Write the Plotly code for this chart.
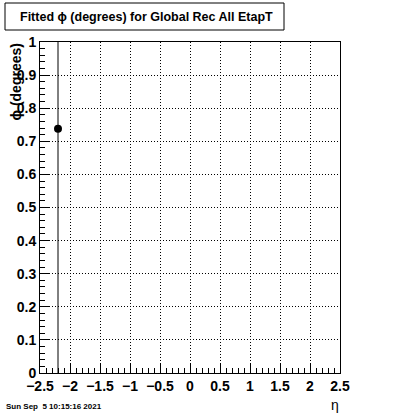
import plotly.graph_objects as go

eta = [-2.2]
phi = [0.738]
phi_err = [1.5]

title_text = "Fitted \u03d5 (degrees) for Global Rec All EtapT"
xtitle = "\u03b7"
ytitle = "\u03d5 (degrees)"
date_text = "Sun Sep  5 10:15:16 2021"

W, H = 400, 414
L, R, T, B = 40, 60, 42, 41
pw, ph = W - L - R, H - T - B

def px(x):
    return (x - L) / pw

def py(y):
    return (H - B - y) / ph

fig = go.Figure()
fig.add_trace(go.Scatter(
    x=eta, y=phi, mode="markers",
    marker=dict(color="black", size=8, symbol="circle"),
    error_y=dict(type="data", array=phi_err, arrayminus=phi_err, color="black", thickness=1, width=0),
    cliponaxis=True, showlegend=False,
))

font = "Liberation Sans, Arial, sans-serif"
fig.update_layout(
    width=W, height=H,
    margin=dict(l=L, r=R, t=T, b=B),
    paper_bgcolor="white", plot_bgcolor="white",
    font=dict(family=font, color="black"),
    xaxis=dict(
        range=[-2.5, 2.5], dtick=0.5, tick0=-2.5,
        showline=True, mirror=True, linecolor="black", linewidth=1,
        ticks="inside", ticklen=9, tickcolor="black",
        showgrid=True, gridcolor="black", griddash="1px,2px", gridwidth=1,
        zeroline=False,
        tickfont=dict(size=14, family=font, weight="bold"),
        minor=dict(ticks="inside", ticklen=5, dtick=0.1, tick0=-2.5, tickcolor="black", showgrid=False),
    ),
    yaxis=dict(
        range=[0, 1], dtick=0.1, tick0=0,
        showline=True, mirror=True, linecolor="black", linewidth=1,
        ticks="inside", ticklen=9, tickcolor="black",
        showgrid=True, gridcolor="black", griddash="1px,2px", gridwidth=1,
        zeroline=False,
        tickfont=dict(size=14, family=font, weight="bold"),
        minor=dict(ticks="inside", ticklen=5, dtick=0.02, tick0=0, tickcolor="black", showgrid=False),
    ),
    shapes=[dict(
        type="rect", xref="paper", yref="paper",
        x0=px(5), x1=px(284), y0=py(30), y1=py(3),
        line=dict(color="black", width=1), fillcolor="white", layer="above",
    )],
    annotations=[
        dict(text=title_text, xref="paper", yref="paper", x=px(146), y=py(17),
             showarrow=False, xanchor="center", yanchor="middle",
             font=dict(size=12.5, family=font, weight="bold")),
        dict(text=ytitle, xref="paper", yref="paper", x=px(15), y=py(42),
             showarrow=False, xanchor="center", yanchor="top", textangle=-90,
             font=dict(size=14, family=font, weight="bold")),
        dict(text=xtitle, xref="paper", yref="paper", x=px(335), y=py(405),
             showarrow=False, xanchor="center", yanchor="middle",
             font=dict(size=14, family=font)),
        dict(text=date_text, xref="paper", yref="paper", x=px(4), y=py(406),
             showarrow=False, xanchor="left", yanchor="middle",
             font=dict(size=8, family=font, weight="bold")),
    ],
)

fig.write_html("out.html", config={"displayModeBar": False},
               post_script="document.body.style.margin='0';document.body.style.overflow='hidden';")
